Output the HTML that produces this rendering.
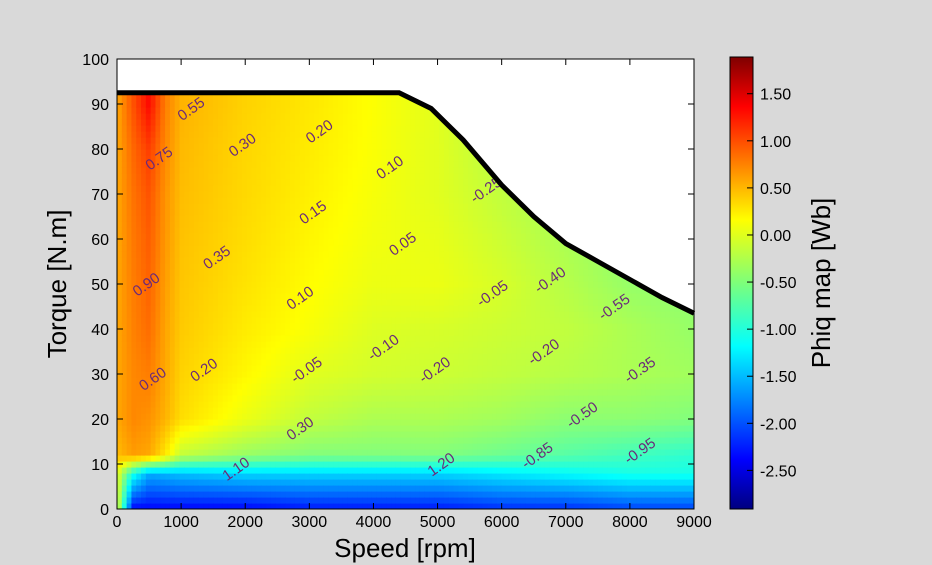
<!DOCTYPE html>
<html><head><meta charset="utf-8"><style>
body{margin:0;background:#d9d9d9;}
svg{display:block;font-family:"Liberation Sans",sans-serif;}
</style></head><body>
<svg id="fig" width="932" height="565">
<rect width="932" height="565" fill="#d9d9d9"/>
<defs>
<clipPath id="plotclip"><rect x="117" y="59" width="577" height="450"/></clipPath>
<linearGradient id="jet" x1="0" y1="1" x2="0" y2="0">
<stop offset="0" stop-color="#00007f"/><stop offset="0.11" stop-color="#0000ff"/>
<stop offset="0.36" stop-color="#00ffff"/><stop offset="0.5" stop-color="#7dff7a"/>
<stop offset="0.64" stop-color="#ffff00"/><stop offset="0.89" stop-color="#ff0000"/>
<stop offset="1" stop-color="#7f0000"/></linearGradient>
</defs>
<g id="heat" clip-path="url(#plotclip)"></g>
<g id="labels" clip-path="url(#plotclip)"></g>
<path id="mask" fill="#fff"/>
<path id="envelope" fill="none" stroke="#000" stroke-width="5"/>
<rect x="117" y="59" width="577" height="450" fill="none" stroke="#000" stroke-width="1"/>
<g id="axes"></g>
<text x="405" y="557" font-size="26" text-anchor="middle">Speed [rpm]</text>
<text transform="translate(66,284) rotate(-90)" font-size="26" text-anchor="middle">Torque [N.m]</text>
<rect x="730" y="57" width="23" height="452" fill="url(#jet)" stroke="#000"/>
<g id="cbticks"></g>
<text transform="translate(830,283) rotate(-90)" font-size="26" text-anchor="middle">Phiq map [Wb]</text>
</svg>
<script>
const speeds=[0,250,500,750,1000,2000,3000,4000,5000,6000,7000,8000,9000];
const torques=[90,80,70,60,50,40,30,20,12,8,0];
const phiq=[
[0.5,0.9,1.25,0.7,0.45,0.3,0.2,0.08,-0.05,-0.3,-0.45,-0.55,-0.6],
[0.5,0.8,1.0,0.65,0.42,0.28,0.18,0.07,-0.05,-0.25,-0.4,-0.55,-0.6],
[0.5,0.75,0.9,0.6,0.4,0.27,0.16,0.05,-0.05,-0.2,-0.35,-0.5,-0.55],
[0.5,0.72,0.85,0.58,0.38,0.25,0.13,0.03,-0.02,-0.15,-0.3,-0.45,-0.5],
[0.5,0.7,0.82,0.55,0.36,0.22,0.1,0.0,0.0,-0.1,-0.25,-0.4,-0.45],
[0.5,0.68,0.78,0.52,0.34,0.18,0.06,-0.07,-0.1,-0.15,-0.2,-0.3,-0.4],
[0.5,0.65,0.7,0.5,0.3,0.12,-0.05,-0.12,-0.15,-0.2,-0.25,-0.3,-0.35],
[0.5,0.65,0.6,0.45,0.25,0.0,-0.2,-0.3,-0.3,-0.35,-0.45,-0.45,-0.5],
[0.4,0.55,0.5,0.2,-0.2,-0.4,-0.5,-0.5,-0.5,-0.6,-0.7,-0.8,-0.9],
[0,-1.0,-1.5,-1.45,-1.4,-1.3,-1.3,-1.3,-1.3,-1.2,-1.1,-1.0,-1.0],
[0,-2.3,-2.3,-2.3,-2.3,-2.3,-2.2,-2.2,-2.2,-2.1,-2.1,-2.0,-2.0]];
const envSpeed=[0,4400,4900,5400,6000,6500,7000,7500,8000,8500,9000];
const envTorque=[92.5,92.5,89,82,72,65,59,55,51,47,43.5];
const xTicks=[0,1000,2000,3000,4000,5000,6000,7000,8000,9000];
const yTicks=[0,10,20,30,40,50,60,70,80,90,100];
const cbTicks=[1.5,1.0,0.5,0.0,-0.5,-1.0,-1.5,-2.0,-2.5];
const cbLabels=["1.50","1.00","0.50","0.00","-0.50","-1.00","-1.50","-2.00","-2.50"];
const contourLabels=[[1200,88,"0.55"],[2000,80,"0.30"],[3200,83,"0.20"],[4300,75,"0.10"],[700,77,"0.75"],[1600,55,"0.35"],[3100,65,"0.15"],[4500,58,"0.05"],[500,49,"0.90"],[2900,46,"0.10"],[5900,47,"-0.05"],[6800,50,"-0.40"],[7800,44,"-0.55"],[6700,34,"-0.20"],[4200,35,"-0.10"],[3000,30,"-0.05"],[5000,30,"-0.20"],[8200,30,"-0.35"],[1400,30,"0.20"],[600,28,"0.60"],[2900,17,"0.30"],[7300,20,"-0.50"],[1900,8,"1.10"],[5100,9,"1.20"],[6600,11,"-0.85"],[8200,12,"-0.95"],[5800,70,"-0.25"]];
const vmin=-2.91,vmax=1.89;
const X=v=>117+v/9000*577, Y=t=>509-t/100*450;
function jet(v){let f=(v-vmin)/(vmax-vmin);f=Math.max(0,Math.min(1,f));
 const c=x=>Math.round(255*Math.max(0,Math.min(1,1.5-Math.abs(4*f-x))));
 return `rgb(${c(3)},${c(2)},${c(1)})`;}
function interp(arr,x){for(let i=0;i<arr.length-1;i++){const a=arr[i],b=arr[i+1];
 if((x>=Math.min(a,b))&&(x<=Math.max(a,b))){return [i,(x-a)/(b-a)];}}return [arr.length-2,1];}
function val(s,t){const [i,fi]=interp(speeds,s);const [j,fj]=interp(torques,t);
 const a=phiq[j][i]*(1-fi)+phiq[j][i+1]*fi, b=phiq[j+1][i]*(1-fi)+phiq[j+1][i+1]*fi;return a*(1-fj)+b*fj;}
const NS="http://www.w3.org/2000/svg";
const heat=document.getElementById('heat');
const nx=120,ny=75;
for(let a=0;a<nx;a++)for(let b=0;b<ny;b++){
 const s=(a+0.5)/nx*9000,t=(b+0.5)/ny*100;
 const r=document.createElementNS(NS,'rect');
 r.setAttribute('x',X(a/nx*9000));r.setAttribute('y',Y((b+1)/ny*100));
 r.setAttribute('width',577/nx+0.6);r.setAttribute('height',450/ny+0.6);
 r.setAttribute('fill',jet(val(s,Math.min(t,90))));
 
 
 heat.appendChild(r);}
const lab=document.getElementById('labels');
contourLabels.forEach(c=>{const t=document.createElementNS(NS,'text');
 t.setAttribute('x',X(c[0]));t.setAttribute('y',Y(c[1]));t.setAttribute('font-size','15');
 t.setAttribute('fill','#6a2a7a');t.setAttribute('text-anchor','middle');
 t.setAttribute('transform',`rotate(-35 ${X(c[0])} ${Y(c[1])})`);t.textContent=c[2];
 
 
 lab.appendChild(t);});
let d='';envSpeed.forEach((s,i)=>{d+=(i?'L':'M')+X(s)+','+Y(envTorque[i]);});
document.getElementById('envelope').setAttribute('d',d);
document.getElementById('mask').setAttribute('d',d+`L${X(9000)},${Y(100)}L${X(0)},${Y(100)}Z`);
const ax=document.getElementById('axes');
function add(tag,attrs,txt){const e=document.createElementNS(NS,tag);for(const k in attrs)e.setAttribute(k,attrs[k]);if(txt!==undefined)e.textContent=txt;return e;}
xTicks.forEach(v=>{const l=add('line',{x1:X(v),x2:X(v),y1:509,y2:503,stroke:'#000'});
 ax.appendChild(l);
 const l2=add('line',{x1:X(v),x2:X(v),y1:59,y2:65,stroke:'#000'});
 ax.appendChild(l2);
 const t=add('text',{x:X(v),y:527,'font-size':16,'text-anchor':'middle'},v);
 ax.appendChild(t);});
yTicks.forEach(v=>{const l=add('line',{x1:117,x2:123,y1:Y(v),y2:Y(v),stroke:'#000'});
 ax.appendChild(l);
 const l2=add('line',{x1:688,x2:694,y1:Y(v),y2:Y(v),stroke:'#000'});
 ax.appendChild(l2);
 const t=add('text',{x:109,y:Y(v)+6,'font-size':16,'text-anchor':'end'},v);
 ax.appendChild(t);});
const cb=document.getElementById('cbticks');
const CY=v=>509-(v-vmin)/(vmax-vmin)*452;
cbTicks.forEach((v,i)=>{const l=add('line',{x1:747,x2:753,y1:CY(v),y2:CY(v),stroke:'#000'});
 cb.appendChild(l);
 const t=add('text',{x:760,y:CY(v)+6,'font-size':16},cbLabels[i]);
 cb.appendChild(t);});
</script>
</body></html>
